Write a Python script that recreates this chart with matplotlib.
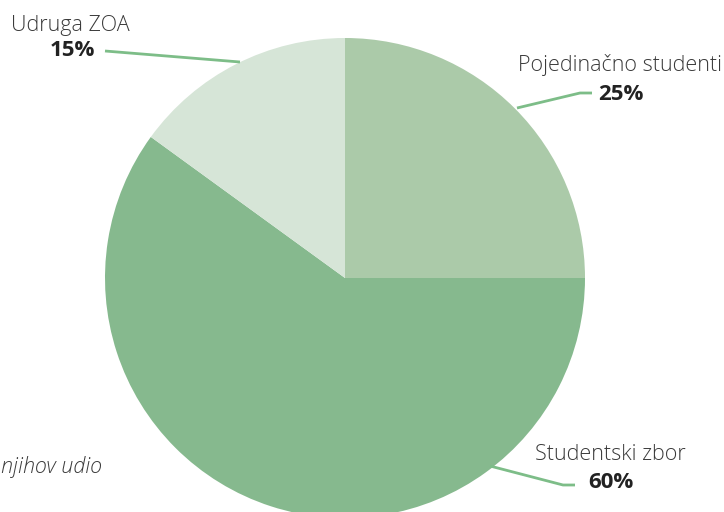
import matplotlib
matplotlib.use("Agg")
import matplotlib.pyplot as plt

categories = ["Pojedinačno studenti", "Studentski zbor", "Udruga ZOA"]
values = [25, 60, 15]
pct_labels = ["25%", "60%", "15%"]
colors = ["#abcaa9", "#86b98e", "#d6e5d7"]

W, H = 724, 512
fig = plt.figure(figsize=(W / 100, H / 100), dpi=100)
ax = fig.add_axes([0, 0, 1, 1])

cx, cy, r = 345, 512 - 278, 240
ax.pie(values, colors=colors, startangle=90, counterclock=False,
       center=(cx, cy), radius=r, frame=True,
       wedgeprops=dict(linewidth=0))
ax.set_xlim(0, W)
ax.set_ylim(0, H)
ax.set_aspect("equal")
ax.axis("off")

font = "Open Sans"
line_c = "#7dbd88"

def Y(y):
    return H - y

# label positions (pixel coords, top-down)
name_pos = [(722, 65, "right"), (686, 455, "right"), (130, 25, "right")]
pct_pos = [(598, 95, "left"), (588, 483, "left"), (95, 51, "right")]
leaders = [
    [(517, 108), (580, 93), (592, 93)],
    [(490, 466), (563, 485), (575, 485)],
    [(240, 62), (105, 51)],
]

for cat, pl, (nx, ny, nha), (px, py, pha), ld in zip(categories, pct_labels, name_pos, pct_pos, leaders):
    ax.text(nx, Y(ny), cat, ha=nha, va="center", fontsize=15.5,
            family=font, color="#3a3a3a", fontweight="light")
    ax.text(px, Y(py), pl, ha=pha, va="center", fontsize=16,
            family=font, color="#222222", fontweight="bold")
    xs = [p[0] for p in ld]
    ys = [Y(p[1]) for p in ld]
    ax.plot(xs, ys, color=line_c, lw=2, solid_capstyle="butt")

ax.text(102, Y(467), "njihov udio", ha="right", va="center", fontsize=15.5,
        family=font, style="italic", color="#3a3a3a", fontweight="light")

fig.savefig("out.png", dpi=100)
